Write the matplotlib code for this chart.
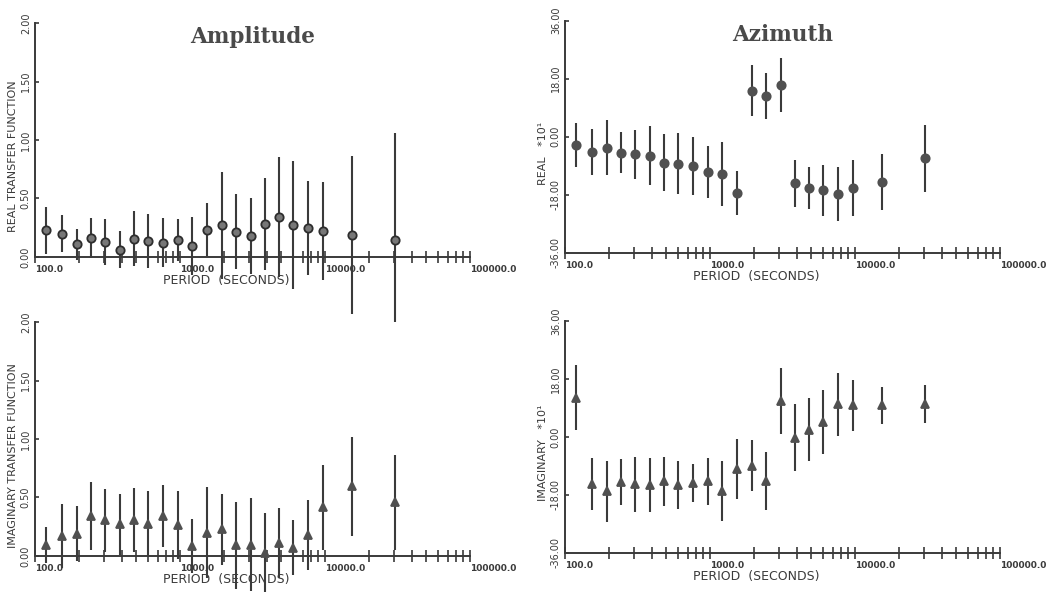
import numpy as np
import matplotlib.pyplot as plt
from matplotlib.ticker import FixedLocator, LogLocator, NullFormatter

plt.rcParams['font.family'] = 'DejaVu Sans'

# periods (seconds)
period = [120, 153, 194, 242, 304, 386, 484, 605, 767, 974, 1216,
          1528, 1937, 2432, 3071, 3857, 4843, 6050, 7675, 9634, 15270, 30400]

# amplitude, real part
amp_re = [0.229, 0.200, 0.109, 0.166, 0.129, 0.063, 0.157, 0.137, 0.120, 0.143, 0.094,
          0.234, 0.271, 0.217, 0.177, 0.280, 0.343, 0.274, 0.246, 0.223, 0.189, 0.149]
amp_re_err = [0.200, 0.157, 0.134, 0.171, 0.194, 0.157, 0.233, 0.234, 0.209, 0.180, 0.246,
              0.223, 0.458, 0.320, 0.323, 0.391, 0.514, 0.549, 0.403, 0.420, 0.674, 0.908]

# amplitude, imaginary part
amp_im = [0.091, 0.169, 0.191, 0.343, 0.306, 0.271, 0.306, 0.271, 0.343, 0.263, 0.083,
          0.197, 0.226, 0.091, 0.097, 0.026, 0.111, 0.071, 0.177, 0.414, 0.597, 0.457]
amp_im_err = [0.152, 0.271, 0.235, 0.293, 0.269, 0.261, 0.274, 0.281, 0.264, 0.293, 0.229,
              0.389, 0.300, 0.371, 0.394, 0.337, 0.300, 0.235, 0.300, 0.364, 0.424, 0.407]

# azimuth, real part (*10)
az_re = [-2.6, -4.7, -3.4, -4.9, -5.5, -5.9, -8.1, -8.3, -9.0, -10.9, -11.6,
         -17.4, 14.3, 12.7, 16.0, -14.5, -16.0, -16.6, -17.8, -16.0, -14.0, -6.7]
az_re_err = [6.9, 7.1, 8.5, 6.4, 7.6, 9.2, 8.8, 9.5, 9.0, 8.1, 9.9,
             6.9, 8.0, 7.2, 8.4, 7.4, 6.5, 7.9, 8.4, 8.7, 8.6, 10.3]

# azimuth, imaginary part (*10)
az_im = [12.2, -14.7, -16.9, -14.1, -14.7, -14.9, -13.8, -14.9, -14.3, -13.8, -16.7,
         -10.0, -9.0, -13.6, 11.1, -0.2, 2.2, 4.6, 10.1, 9.8, 9.8, 10.1]
az_im_err = [10.2, 8.0, 9.4, 7.1, 8.5, 8.4, 7.7, 7.4, 5.9, 7.4, 9.3,
             9.2, 7.9, 9.0, 10.3, 10.5, 9.8, 9.8, 9.8, 7.9, 5.8, 5.9]

ink = '#3a3a3a'

fig = plt.figure(figsize=(10.64, 5.92), dpi=100)

W = 435 / 1064
panels = [
    # rect, y, err, marker, ylim, yticks, ylabel, title
    ([35 / 1064, 0.566, W, 0.395], amp_re, amp_re_err, 'o', (0, 2), [0, 0.5, 1.0, 1.5, 2.0],
     'REAL TRANSFER FUNCTION', 'Amplitude'),
    ([565 / 1064, 0.573, W, 0.392], az_re, az_re_err, 'o', (-36, 36), [-36, -18, 0, 18, 36],
     'REAL   *10\u00b9', 'Azimuth'),
    ([35 / 1064, 0.061, W, 0.395], amp_im, amp_im_err, '^', (0, 2), [0, 0.5, 1.0, 1.5, 2.0],
     'IMAGINARY TRANSFER FUNCTION', None),
    ([565 / 1064, 0.066, W, 0.392], az_im, az_im_err, '^', (-36, 36), [-36, -18, 0, 18, 36],
     'IMAGINARY   *10\u00b9', None),
]

for i, (rect, y, err, mk, ylim, yt, ylab, title) in enumerate(panels):
    ax = fig.add_axes(rect)
    ax.set_xscale('log')
    ax.set_xlim(100, 100000)
    ax.set_ylim(*ylim)
    for s in ['top', 'right']:
        ax.spines[s].set_visible(False)
    for s in ['left', 'bottom']:
        ax.spines[s].set_color(ink)
        ax.spines[s].set_linewidth(1.4)

    if i == 0:
        mfc, mec = '#777777', '#2e2e2e'
    else:
        mfc, mec = '#505050', '#505050'
    ax.errorbar(period, y, yerr=err, fmt=mk, ms=6 if mk == 'o' else 5.5,
                mfc=mfc, mec=mec, mew=1.3, ecolor=ink, elinewidth=1.5,
                capsize=0, clip_on=False, zorder=3)

    # x ticks: decade labels left-aligned, minor ticks crossing the axis
    ax.xaxis.set_major_locator(FixedLocator([100, 1000, 10000, 100000]))
    ax.xaxis.set_minor_locator(LogLocator(base=10, subs=np.arange(2, 10)))
    ax.xaxis.set_minor_formatter(NullFormatter())
    ax.set_xticklabels(['100.0', '1000.0', '10000.0', '100000.0'],
                       fontsize=6.5, fontweight='bold', ha='left', color=ink)
    ax.tick_params(axis='x', which='both', direction='inout', length=8,
                   width=1.2, color=ink, pad=2)

    ax.set_yticks(yt)
    ax.set_yticklabels(['%.2f' % v for v in yt], rotation=90, va='center',
                       fontsize=7, color=ink)
    ax.tick_params(axis='y', direction='in', length=3, width=1.2, color=ink, pad=3)

    ax.set_xlabel('PERIOD  (SECONDS)', fontsize=9, color=ink)
    ax.xaxis.set_label_coords(0.44, -0.075)
    ax.set_ylabel(ylab, fontsize=8, color=ink)
    ax.yaxis.set_label_coords(-0.038, 0.43)

    if title:
        ax.text(0.5, 0.94, title, transform=ax.transAxes, ha='center', va='center',
                fontsize=15.5, family='DejaVu Serif', fontweight='bold', color='#4a4a4a')

fig.savefig('out.png', dpi=100, facecolor='white')
